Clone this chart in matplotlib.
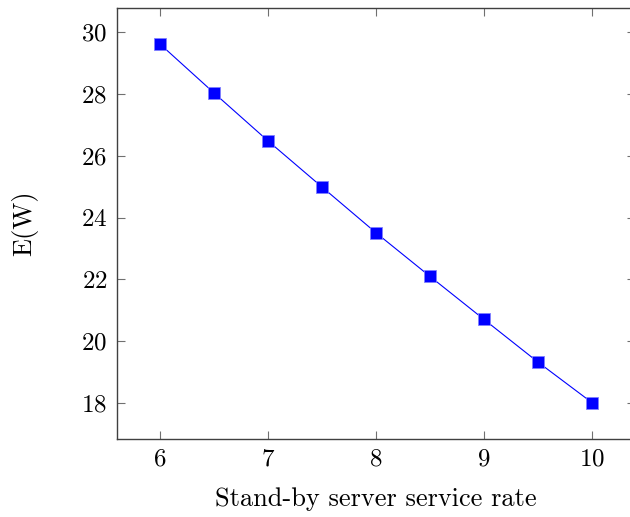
import matplotlib
matplotlib.use('Agg')
import matplotlib.pyplot as plt

plt.rcParams['font.family'] = 'cmr10'
plt.rcParams['mathtext.fontset'] = 'cm'
plt.rcParams['axes.formatter.use_mathtext'] = True

# service rate of the stand-by server vs expected waiting time
rate = [6, 6.5, 7, 7.5, 8, 8.5, 9, 9.5, 10]
ew = [29.61, 28.03, 26.48, 24.99, 23.51, 22.10, 20.71, 19.33, 18.02]

fig = plt.figure(figsize=(6.3, 5.17), dpi=100)
ax = fig.add_axes([0.1857, 0.1509, 0.8222, 0.8336])

ax.plot(rate, ew, color='blue', lw=0.8, marker='s', markersize=8.5,
        markeredgecolor='#8080ff', markeredgewidth=0.6, markerfacecolor='blue')

ax.set_xlim(5.6, 10.4)
ax.set_ylim(16.84, 30.78)
ax.set_xticks([6, 7, 8, 9, 10])
ax.set_yticks([18, 20, 22, 24, 26, 28, 30])
ax.tick_params(direction='in', top=True, right=True, length=6, width=0.8,
               color='#707070', labelsize=18, pad=7)
for s in ax.spines.values():
    s.set_color('#404040')
    s.set_linewidth(1.0)

ax.set_xlabel('Stand-by server service rate', fontsize=19, labelpad=12)
ax.set_ylabel('E(W)', fontsize=19, labelpad=31)

fig.savefig('out.png', dpi=100)
